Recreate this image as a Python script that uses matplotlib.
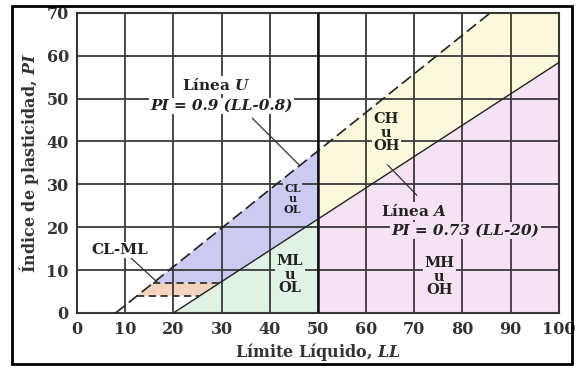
import matplotlib.pyplot as plt
import numpy as np

# plasticity chart definitions
u_slope, u_off = 0.9, 8.0      # Linea U: PI = 0.9 (LL - 8)
a_slope, a_off = 0.73, 20.0    # Linea A: PI = 0.73 (LL - 20)
ll_split = 50
clml_low, clml_high = 4, 7
x_ticks = [0, 10, 20, 30, 40, 50, 60, 70, 80, 90, 100]
y_ticks = [0, 10, 20, 30, 40, 50, 60, 70]

col_blue = '#cacaf2'
col_green = '#def3e3'
col_yellow = '#fbf8dc'
col_pink = '#f6e2f5'
col_clml = '#f4d3bd'


def u_pi(ll):
    return u_slope * (ll - u_off)


def u_ll(pi):
    return pi / u_slope + u_off


def a_pi(ll):
    return a_slope * (ll - a_off)


def a_ll(pi):
    return pi / a_slope + a_off


plt.rcParams['font.family'] = 'DejaVu Serif'
plt.rcParams['font.weight'] = 'bold'
plt.rcParams['mathtext.fontset'] = 'custom'
plt.rcParams['mathtext.it'] = 'DejaVu Serif:italic:bold'
plt.rcParams['mathtext.rm'] = 'DejaVu Serif:bold'

fig = plt.figure(figsize=(5.76, 3.69), dpi=100)
ax = fig.add_axes([0.134, 0.152, 0.836, 0.813])

xmax, ymax = x_ticks[-1], y_ticks[-1]

# zones
ax.fill([u_ll(clml_high), ll_split, ll_split, a_ll(clml_high)],
        [clml_high, u_pi(ll_split), a_pi(ll_split), clml_high],
        color=col_blue, lw=0, zorder=1)
ax.fill([a_off, ll_split, ll_split], [0, 0, a_pi(ll_split)],
        color=col_green, lw=0, zorder=1)
ax.fill([ll_split, u_ll(ymax), xmax, xmax, ll_split],
        [u_pi(ll_split), ymax, ymax, a_pi(xmax), a_pi(ll_split)],
        color=col_yellow, lw=0, zorder=1)
ax.fill([ll_split, xmax, xmax, ll_split],
        [0, 0, a_pi(xmax), a_pi(ll_split)],
        color=col_pink, lw=0, zorder=1)
ax.fill([u_ll(clml_low), u_ll(clml_high), a_ll(clml_high), a_ll(clml_low)],
        [clml_low, clml_high, clml_high, clml_low],
        color=col_clml, lw=0, zorder=1)

ax.set_axisbelow(False)
ax.grid(True, color='#3a3a3a', lw=1.3)

# lines
llu = np.array([u_off, u_ll(ymax)])
ax.plot(llu, u_pi(llu), color='#222222', lw=1.2, ls=(0, (7, 3)), zorder=4)
lla = np.array([a_off, xmax])
ax.plot(lla, a_pi(lla), color='#222222', lw=1.0, zorder=4)
ax.plot([ll_split, ll_split], [0, ymax], color='#111111', lw=1.8, zorder=4)
for p in [clml_low, clml_high]:
    ax.plot([u_ll(p), a_ll(p)], [p, p], color='#333333', lw=1.3,
            ls=(0, (4, 2.5)), zorder=4)

ax.set_xlim(0, xmax)
ax.set_ylim(0, ymax)
ax.set_xticks(x_ticks)
ax.set_yticks(y_ticks)
ax.tick_params(length=0, labelsize=11.5, colors='#333333', pad=6)
for lab in ax.get_xticklabels() + ax.get_yticklabels():
    lab.set_fontweight('bold')
for s in ax.spines.values():
    s.set_color('#333333')
    s.set_linewidth(1.5)

ax.set_xlabel('Límite Líquido, $LL$', fontsize=11.5, color='#333333',
              fontweight='bold', labelpad=2)
ax.set_ylabel('Índice de plasticidad, $PI$', fontsize=11.5, color='#333333',
              fontweight='bold', labelpad=4)

tk = dict(ha='center', va='center', color='#222222', fontweight='bold', zorder=6)

# Linea U
ax.plot([36.4, 46.2], [45.4, 34.4], color='#333333', lw=0.9, zorder=5)
ax.text(28.8, 53.2, 'Línea $U$', fontsize=11, **tk,
        bbox=dict(fc='white', ec='none', pad=1))
ax.text(30.0, 48.3, 'PI = 0.9 (LL-0.8)', fontsize=11, style='italic', **tk,
        bbox=dict(fc='white', ec='none', pad=1))

# Linea A
ax.plot([64.5, 70.5], [34.5, 27.5], color='#333333', lw=0.9, zorder=5)
ax.text(70.0, 23.8, 'Línea $A$', fontsize=11, **tk,
        bbox=dict(fc=col_pink, ec='none', pad=1))
ax.text(80.7, 19.3, 'PI = 0.73 (LL-20)', fontsize=11, style='italic', **tk,
        bbox=dict(fc=col_pink, ec='none', pad=1))

# zone labels
ax.text(64.2, 42.0, 'CH\nu\nOH', fontsize=10.5, linespacing=0.95, **tk,
        bbox=dict(fc=col_yellow, ec='none', pad=1))
ax.text(75.2, 8.4, 'MH\nu\nOH', fontsize=10.5, linespacing=0.95, **tk,
        bbox=dict(fc=col_pink, ec='none', pad=1))
ax.text(44.2, 8.9, 'ML\nu\nOL', fontsize=10.5, linespacing=0.95, **tk,
        bbox=dict(fc=col_green, ec='none', pad=1))
ax.text(44.7, 26.6, 'CL\nu\nOL', fontsize=8, linespacing=0.95, **tk,
        bbox=dict(fc=col_blue, ec='none', pad=0.5))

ax.plot([11.0, 16.8], [13.0, 7.0], color='#333333', lw=0.9, zorder=5)
ax.text(8.9, 14.7, 'CL-ML', fontsize=11, **tk,
        bbox=dict(fc='white', ec='none', pad=1))

# outer frame
fig.patches.append(plt.Rectangle((12 / 576, 5 / 369), 560 / 576, 358 / 369,
                                 transform=fig.transFigure, fill=False,
                                 ec='black', lw=2))

fig.savefig('out.png', dpi=100)
